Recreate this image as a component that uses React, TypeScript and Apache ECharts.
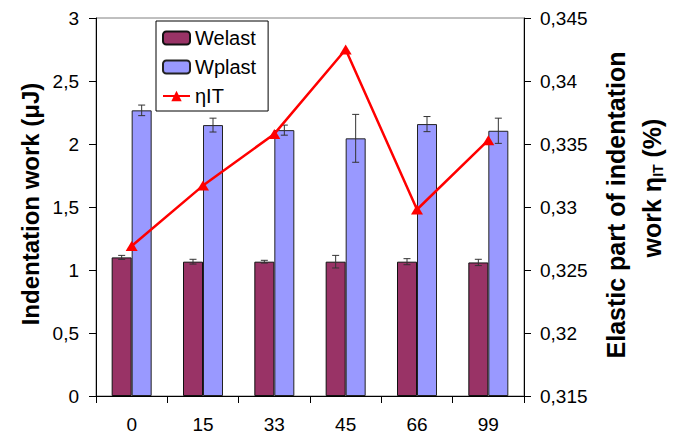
import React, { useEffect, useRef } from "react";
import * as echarts from "echarts";

const categories = ["0", "15", "33", "45", "66", "99"];
const welast = [1.1, 1.066, 1.066, 1.066, 1.066, 1.06];
const welastErr = [0.016, 0.019, 0.011, 0.05, 0.024, 0.025];
const wplast = [2.267, 2.15, 2.11, 2.045, 2.158, 2.105];
const wplastErr = [0.042, 0.055, 0.04, 0.19, 0.06, 0.1];
const eta = [0.3269, 0.3317, 0.3358, 0.3425, 0.3298, 0.3353];

const FONT = "'Liberation Sans', Arial, sans-serif";

function errData(vals: number[], errs: number[]) {
  return vals.map((v, i) => [i, v - errs[i], v + errs[i]]);
}

function errSeries(name: string, data: number[][], offset: number) {
  return {
    type: "custom",
    name,
    z: 5,
    data,
    encode: { x: 0, y: [1, 2] },
    renderItem: (params: any, api: any) => {
      const i = api.value(0);
      const p1 = api.coord([i, api.value(1)]);
      const p2 = api.coord([i, api.value(2)]);
      const cx = p1[0] + offset;
      const cap = 3.5;
      const st = { stroke: "#333", lineWidth: 1 };
      return {
        type: "group",
        children: [
          { type: "line", shape: { x1: cx, y1: p1[1], x2: cx, y2: p2[1] }, style: st },
          { type: "line", shape: { x1: cx - cap, y1: p1[1], x2: cx + cap, y2: p1[1] }, style: st },
          { type: "line", shape: { x1: cx - cap, y1: p2[1], x2: cx + cap, y2: p2[1] }, style: st },
        ],
      };
    },
  };
}

export default function App() {
  const ref = useRef<HTMLDivElement>(null);
  useEffect(() => {
    const chart = echarts.init(ref.current!, null, { renderer: "svg" });
    chart.setOption({
      animation: false,
      backgroundColor: "#fff",
      grid: {
        left: 96,
        right: 149,
        top: 18,
        bottom: 45,
        show: true,
        borderColor: "#808080",
        borderWidth: 1,
        outerBoundsMode: "none",
      },
      legend: {
        orient: "vertical",
        left: 156,
        top: 21,
        data: ["Welast", "Wplast", "ηIT"],
        itemWidth: 27,
        itemHeight: 13,
        itemGap: 9,
        padding: [7, 12, 5, 6],
        borderColor: "#000",
        borderWidth: 1,
        backgroundColor: "#fff",
        textStyle: { fontFamily: FONT, fontSize: 20, color: "#000" },
      },
      xAxis: {
        type: "category",
        data: categories,
        axisLine: { lineStyle: { color: "#000", width: 1 } },
        axisTick: { show: true, length: 7, lineStyle: { color: "#000" } },
        axisLabel: { fontFamily: FONT, fontSize: 19, color: "#000", margin: 19 },
      },
      yAxis: [
        {
          type: "value",
          min: 0,
          max: 3,
          interval: 0.5,
          splitLine: { show: false },
          axisLine: { show: true, lineStyle: { color: "#000" } },
          axisTick: { show: true, length: 7, lineStyle: { color: "#000" } },
          axisLabel: {
            fontFamily: FONT,
            fontSize: 19,
            color: "#000",
            margin: 17,
            formatter: (v: number) => String(v).replace(".", ","),
          },
        },
        {
          type: "value",
          position: "right",
          min: 0.315,
          max: 0.345,
          interval: 0.005,
          splitLine: { show: false },
          axisLine: { show: true, lineStyle: { color: "#000" } },
          axisTick: { show: true, length: 7, lineStyle: { color: "#000" } },
          axisLabel: {
            fontFamily: FONT,
            fontSize: 19,
            color: "#000",
            margin: 16,
            formatter: (v: number) => String(parseFloat(v.toFixed(3))).replace(".", ","),
          },
        },
      ],
      series: [
        {
          type: "bar",
          name: "Welast",
          data: welast,
          barWidth: 20,
          barGap: "0%",
          itemStyle: { color: "#993366", borderColor: "#111", borderWidth: 1 },
        },
        {
          type: "bar",
          name: "Wplast",
          data: wplast,
          barWidth: 20,
          barGap: "0%",
          itemStyle: { color: "#9999FF", borderColor: "#222", borderWidth: 1 },
        },
        errSeries("WelastErr", errData(welast, welastErr), -10),
        errSeries("WplastErr", errData(wplast, wplastErr), 10),
        {
          type: "line",
          name: "ηIT",
          yAxisIndex: 1,
          data: eta,
          z: 6,
          symbol: "triangle",
          symbolSize: [12, 10],
          lineStyle: { color: "#FF0000", width: 2.5 },
          itemStyle: { color: "#FF0000" },
        },
      ],
      graphic: [
        {
          type: "text",
          x: 30,
          y: 204,
          rotation: Math.PI / 2,
          style: {
            text: "Indentation work (μJ)",
            fontFamily: FONT,
            fontWeight: "bold",
            fontSize: 24,
            fill: "#000",
            textAlign: "center",
            textVerticalAlign: "middle",
          },
        },
        {
          type: "text",
          x: 616,
          y: 205,
          rotation: Math.PI / 2,
          style: {
            text: "Elastic part of indentation",
            fontFamily: FONT,
            fontWeight: "bold",
            fontSize: 25,
            fill: "#000",
            textAlign: "center",
            textVerticalAlign: "middle",
          },
        },
        {
          type: "text",
          x: 652,
          y: 188,
          rotation: Math.PI / 2,
          style: {
            text: "{a|work η}{b|IT}{a| (%)}",
            textAlign: "center",
            textVerticalAlign: "middle",
            rich: {
              a: { fontFamily: FONT, fontWeight: "bold", fontSize: 25, fill: "#000", color: "#000" },
              b: {
                fontFamily: FONT,
                fontWeight: "bold",
                fontSize: 14,
                fill: "#000",
                color: "#000",
                verticalAlign: "bottom",
              },
            },
          },
        },
      ],
    });
    return () => chart.dispose();
  }, []);
  return (
    <div
      ref={ref}
      style={{ position: "absolute", left: 0, top: 0, width: 673, height: 441 }}
    />
  );
}
